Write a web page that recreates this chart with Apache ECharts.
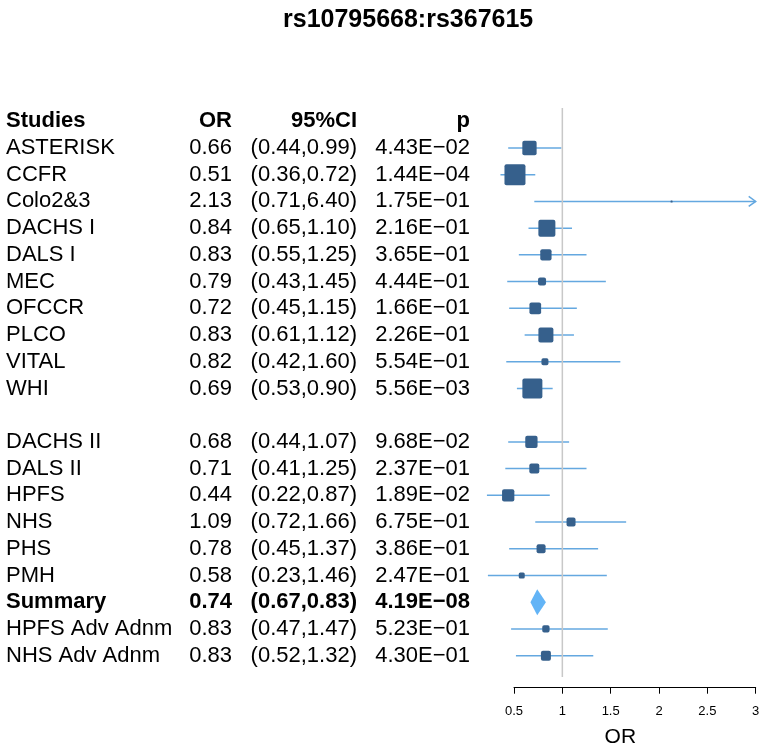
<!DOCTYPE html>
<html>
<head>
<meta charset="utf-8">
<script src="https://cdn.jsdelivr.net/npm/echarts@6/dist/echarts.min.js"></script>
<style>html,body{margin:0;padding:0;background:#fff}#c{width:764px;height:753px}</style>
</head>
<body>
<div id="c"></div>
<script>
// ---- data ----
var titleText = 'rs10795668:rs367615';
var headers = ['Studies', 'OR', '95%CI', 'p'];
var studies = ['ASTERISK','CCFR','Colo2&3','DACHS I','DALS I','MEC','OFCCR','PLCO','VITAL','WHI','',
  'DACHS II','DALS II','HPFS','NHS','PHS','PMH','Summary','HPFS Adv Adnm','NHS Adv Adnm'];
var orValues = [0.66,0.51,2.13,0.84,0.83,0.79,0.72,0.83,0.82,0.69,null,
  0.68,0.71,0.44,1.09,0.78,0.58,0.74,0.83,0.83];
var ciLower = [0.44,0.36,0.71,0.65,0.55,0.43,0.45,0.61,0.42,0.53,null,
  0.44,0.41,0.22,0.72,0.45,0.23,0.67,0.47,0.52];
var ciUpper = [0.99,0.72,6.40,1.10,1.25,1.45,1.15,1.12,1.60,0.90,null,
  1.07,1.25,0.87,1.66,1.37,1.46,0.83,1.47,1.32];
var pValues = [4.43e-2,1.44e-4,1.75e-1,2.16e-1,3.65e-1,4.44e-1,1.66e-1,2.26e-1,5.54e-1,5.56e-3,null,
  9.68e-2,2.37e-1,1.89e-2,6.75e-1,3.86e-1,2.47e-1,4.19e-8,5.23e-1,4.30e-1];
var weights = [14.3,21,2,17,11.3,8,11.7,15,7,20,null,
  12.3,10,12.3,9,9,6,null,7.3,10];
var summaryName = 'Summary';
var xTicks = { min: 0.5, max: 3, interval: 0.5 };

// ---- helpers ----
var FONT = "'Liberation Sans', Arial, Helvetica, sans-serif";
function fmtP(p) {
  var e = Math.floor(Math.log10(p));
  var m = p / Math.pow(10, e);
  if (m >= 9.995) { m /= 10; e += 1; }
  var es = Math.abs(e) < 10 ? '0' + Math.abs(e) : '' + Math.abs(e);
  return m.toFixed(2) + 'E' + (e < 0 ? '\u2212' : '+') + es;
}

var forestData = [];
var tableData = [];
for (var i = 0; i < studies.length; i++) {
  if (orValues[i] == null) continue;
  forestData.push([orValues[i], ciLower[i], ciUpper[i], i, weights[i] == null ? 0 : weights[i], studies[i] === summaryName ? 1 : 0]);
  tableData.push([0, i]);
}

var chart = echarts.init(document.getElementById('c'));
var XMAX = xTicks.max;

var option = {
  animation: false,
  backgroundColor: '#ffffff',
  title: {
    text: titleText, left: 278, top: 3,
    textStyle: { fontSize: 25, fontWeight: 'bold', color: '#000', fontFamily: FONT }
  },
  grid: [
    { left: 485, width: 270.7, top: 107.9, height: 574.2 },
    { left: 514, width: 241.7, top: 107.9, height: 579.8 }
  ],
  xAxis: [
    { gridIndex: 0, type: 'value', min: 0.2, max: XMAX,
      axisLine: { show: false }, axisTick: { show: false }, axisLabel: { show: false }, splitLine: { show: false },
      name: 'OR', nameLocation: 'middle', nameGap: 50,
      nameTextStyle: { fontSize: 21, color: '#000', fontFamily: FONT } },
    { gridIndex: 1, type: 'value', min: xTicks.min, max: xTicks.max, interval: xTicks.interval,
      axisLine: { show: true, lineStyle: { color: '#000', width: 1 } },
      axisTick: { show: true, length: 6, lineStyle: { color: '#000' } },
      axisLabel: { show: true, margin: 17, fontSize: 13, color: '#000', fontFamily: FONT,
        formatter: function (v) { return String(+v.toFixed(1)); } },
      splitLine: { show: false } }
  ],
  yAxis: [
    { gridIndex: 0, type: 'value', inverse: true, min: -1.5, max: 19.8, show: false },
    { gridIndex: 1, type: 'value', min: 0, max: 1, show: false }
  ],
  series: [
    {
      type: 'line', xAxisIndex: 0, yAxisIndex: 0, silent: true,
      data: [[1, -1.5], [1, 19.8]], symbol: 'none',
      lineStyle: { color: '#c8c8c8', width: 1.5 }
    },
    {
      type: 'custom', xAxisIndex: 0, yAxisIndex: 0, silent: true, clip: false,
      data: forestData,
      encode: { x: 0, y: 3 },
      renderItem: function (params, api) {
        var or = api.value(0), lo = api.value(1), hi = api.value(2), row = api.value(3);
        var w = api.value(4), isSum = api.value(5);
        var y = api.coord([or, row])[1];
        var xo = api.coord([or, row])[0];
        var xl = api.coord([lo, row])[0];
        var xh = api.coord([Math.min(hi, XMAX), row])[0];
        var lineColor = '#64a8e0';
        var children = [];
        if (isSum) {
          var hh = 13;
          children.push({ type: 'polygon', shape: { points: [[xl, y], [xo, y - hh], [xh, y], [xo, y + hh]] },
            style: { fill: '#63b4f6', stroke: null } });
          return { type: 'group', children: children };
        }
        children.push({ type: 'line', shape: { x1: xl, y1: y, x2: xh, y2: y },
          style: { stroke: lineColor, lineWidth: 1.5 } });
        if (hi > XMAX) {
          children.push({ type: 'polyline', shape: { points: [[xh - 7, y - 5], [xh, y], [xh - 7, y + 5]] },
            style: { stroke: lineColor, lineWidth: 1.5, fill: null } });
        }
        var s = w;
        children.push({ type: 'rect', shape: { x: xo - s / 2, y: y - s / 2, width: s, height: s, r: Math.min(2, s / 4) },
          style: { fill: '#36608c', stroke: null } });
        return { type: 'group', children: children };
      }
    },
    {
      type: 'custom', xAxisIndex: 0, yAxisIndex: 0, silent: true, clip: false,
      data: [[0, -1]].concat(tableData),
      encode: { x: 0, y: 1 },
      renderItem: function (params, api) {
        var row = api.value(1);
        var y = api.coord([1, row])[1];
        var texts, bold;
        if (row < 0) {
          texts = headers; bold = true;
        } else {
          texts = [studies[row], orValues[row].toFixed(2),
            '(' + ciLower[row].toFixed(2) + ',' + ciUpper[row].toFixed(2) + ')', fmtP(pValues[row])];
          bold = studies[row] === summaryName;
        }
        var xs = [6, 232, 357, 470];
        var al = ['left', 'right', 'right', 'right'];
        var children = [];
        for (var k = 0; k < 4; k++) {
          children.push({ type: 'text', x: xs[k], y: y,
            style: { text: texts[k], fill: '#000', fontSize: 22, fontFamily: FONT,
              fontWeight: bold ? 'bold' : 'normal', align: al[k], verticalAlign: 'middle' } });
        }
        return { type: 'group', children: children };
      }
    }
  ]
};
chart.setOption(option);
</script>
</body>
</html>
